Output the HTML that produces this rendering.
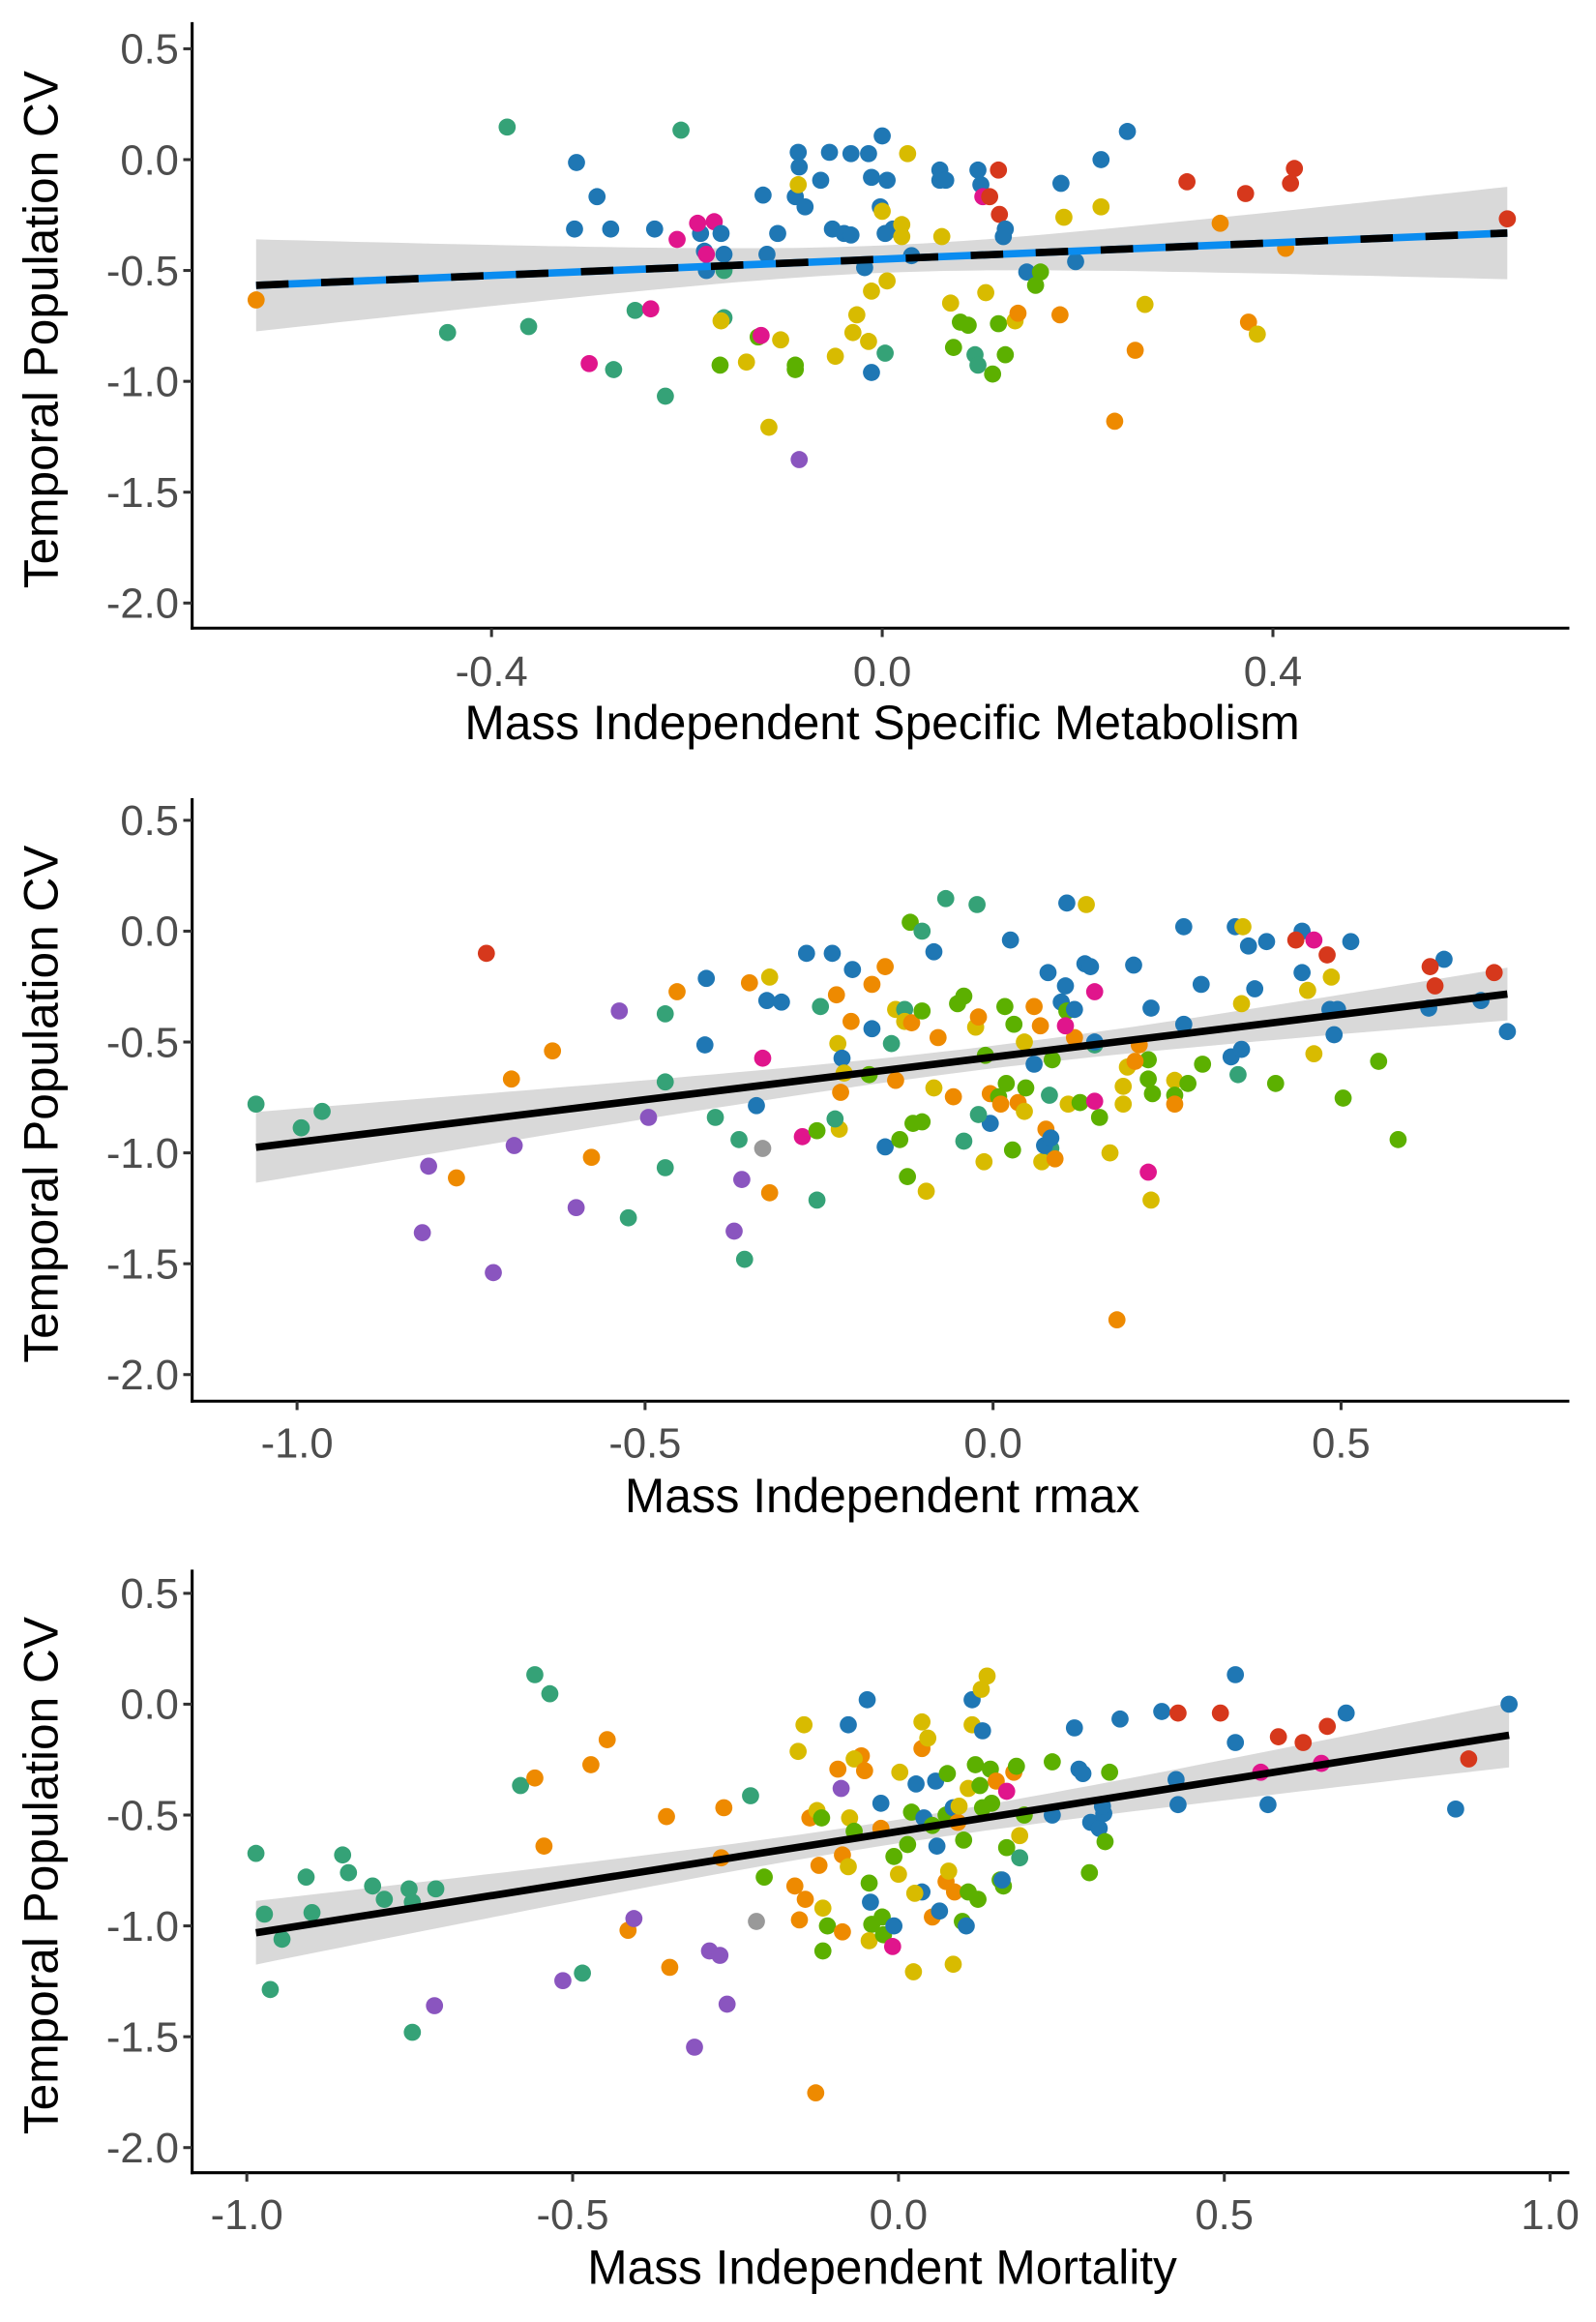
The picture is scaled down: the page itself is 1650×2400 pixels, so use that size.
<!DOCTYPE html>
<html><head><meta charset="utf-8"><style>
html,body{margin:0;padding:0;background:#fff;}
svg{display:block;}
text{font-family:"Liberation Sans",Arial,sans-serif;}
</style></head><body>
<svg id="chart" width="1650" height="2400" viewBox="0 0 1080 1571" xmlns="http://www.w3.org/2000/svg"></svg>
<script>
const colorCodes = {b:'#1f77b4',t:'#35a277',o:'#ee8a00',y:'#d8bb00',l:'#5cb000',r:'#d6381c',m:'#e0158c',p:'#8a55bf',g:'#999999'};
const yTicks = [0.5,0.0,-0.5,-1.0,-1.5,-2.0];
const yTickLabels = ['0.5','0.0','-0.5','-1.0','-1.5','-2.0'];
const p1xTicks = [-0.4,0.0,0.4];
const p1xTickLabels = ['-0.4','0.0','0.4'];
const p2xTicks = [-1.0,-0.5,0.0,0.5];
const p2xTickLabels = ['-1.0','-0.5','0.0','0.5'];
const p3xTicks = [-1.0,-0.5,0.0,0.5,1.0];
const p3xTickLabels = ['-1.0','-0.5','0.0','0.5','1.0'];
const yTitle = 'Temporal Population CV';
const xTitles = ['Mass Independent Specific Metabolism','Mass Independent rmax','Mass Independent Mortality'];

const p1 = [[-0.384,0.147,'t'],[-0.206,0.133,'t'],[-0.313,-0.013,'b'],[-0.292,-0.167,'b'],[-0.315,-0.313,'b'],[-0.278,-0.313,'b'],[-0.233,-0.313,'b'],[-0.21,-0.36,'m'],[-0.186,-0.333,'b'],[-0.189,-0.287,'m'],[-0.172,-0.28,'m'],[-0.182,-0.413,'b'],[-0.18,-0.5,'b'],[-0.18,-0.427,'m'],[-0.165,-0.333,'b'],[-0.162,-0.427,'b'],[-0.162,-0.5,'t'],[-0.162,-0.713,'t'],[-0.165,-0.727,'y'],[-0.445,-0.78,'t'],[-0.362,-0.753,'t'],[-0.253,-0.68,'t'],[-0.237,-0.673,'m'],[-0.641,-0.633,'o'],[-0.3,-0.92,'m'],[-0.275,-0.947,'t'],[-0.222,-1.067,'t'],[-0.166,-0.927,'l'],[-0.139,-0.913,'y'],[-0.127,-0.8,'l'],[-0.124,-0.793,'m'],[-0.104,-0.813,'y'],[-0.116,-1.207,'y'],[-0.089,-0.927,'l'],[-0.089,-0.947,'l'],[-0.085,-1.353,'p'],[-0.122,-0.16,'b'],[-0.107,-0.333,'b'],[-0.118,-0.427,'b'],[-0.086,0.033,'b'],[-0.085,-0.033,'b'],[-0.089,-0.167,'b'],[-0.079,-0.213,'b'],[-0.063,-0.093,'b'],[-0.054,0.033,'b'],[-0.032,0.027,'b'],[0.0,0.107,'b'],[-0.014,0.027,'b'],[-0.011,-0.08,'b'],[0.026,0.027,'y'],[-0.086,-0.113,'y'],[-0.051,-0.313,'b'],[-0.039,-0.333,'b'],[-0.032,-0.34,'b'],[-0.018,-0.487,'b'],[-0.002,-0.213,'b'],[0.005,-0.093,'b'],[0.011,-0.313,'b'],[0.018,-0.313,'b'],[0.003,-0.333,'b'],[0.0,-0.233,'y'],[0.02,-0.293,'y'],[0.02,-0.347,'y'],[0.03,-0.433,'b'],[0.005,-0.547,'y'],[-0.011,-0.593,'y'],[-0.026,-0.7,'y'],[-0.03,-0.78,'y'],[-0.014,-0.82,'y'],[-0.048,-0.887,'y'],[0.003,-0.873,'t'],[-0.011,-0.96,'b'],[0.059,-0.047,'b'],[0.059,-0.093,'b'],[0.065,-0.093,'b'],[0.098,-0.047,'b'],[0.101,-0.113,'b'],[0.103,-0.167,'m'],[0.119,-0.047,'r'],[0.12,-0.247,'r'],[0.11,-0.167,'r'],[0.126,-0.313,'b'],[0.124,-0.347,'b'],[0.061,-0.347,'y'],[0.07,-0.647,'y'],[0.073,-0.847,'l'],[0.08,-0.733,'l'],[0.088,-0.747,'l'],[0.095,-0.88,'t'],[0.098,-0.927,'t'],[0.113,-0.967,'l'],[0.126,-0.88,'l'],[0.119,-0.74,'l'],[0.136,-0.727,'y'],[0.139,-0.693,'o'],[0.106,-0.6,'y'],[0.148,-0.507,'b'],[0.162,-0.507,'l'],[0.157,-0.567,'l'],[0.183,-0.107,'b'],[0.186,-0.26,'y'],[0.198,-0.46,'b'],[0.182,-0.7,'o'],[0.224,0.0,'b'],[0.224,-0.213,'y'],[0.251,0.127,'b'],[0.259,-0.86,'o'],[0.269,-0.653,'y'],[0.238,-1.18,'o'],[0.312,-0.1,'r'],[0.372,-0.153,'r'],[0.346,-0.287,'o'],[0.422,-0.04,'r'],[0.418,-0.107,'r'],[0.413,-0.4,'o'],[0.375,-0.733,'o'],[0.384,-0.787,'y'],[0.64,-0.267,'r']];

const p2 = [[-1.059,-0.78,'t'],[-0.994,-0.887,'t'],[-0.964,-0.813,'t'],[-0.728,-0.1,'r'],[-0.692,-0.667,'o'],[-0.633,-0.54,'o'],[-0.771,-1.113,'o'],[-0.811,-1.06,'p'],[-0.82,-1.36,'p'],[-0.718,-1.54,'p'],[-0.688,-0.967,'p'],[-0.599,-1.247,'p'],[-0.577,-1.02,'o'],[-0.537,-0.36,'p'],[-0.524,-1.293,'t'],[-0.495,-0.84,'p'],[-0.454,-0.273,'o'],[-0.471,-0.373,'t'],[-0.471,-0.68,'t'],[-0.471,-1.067,'t'],[-0.412,-0.213,'b'],[-0.414,-0.513,'b'],[-0.399,-0.84,'t'],[-0.35,-0.233,'o'],[-0.365,-0.94,'t'],[-0.361,-1.12,'p'],[-0.372,-1.353,'p'],[-0.357,-1.48,'t'],[-0.34,-0.787,'b'],[-0.331,-0.98,'g'],[-0.321,-1.18,'o'],[-0.321,-0.207,'y'],[-0.325,-0.313,'b'],[-0.304,-0.32,'b'],[-0.331,-0.573,'m'],[-0.268,-0.1,'b'],[-0.231,-0.1,'b'],[-0.248,-0.34,'t'],[-0.274,-0.927,'m'],[-0.253,-1.213,'t'],[-0.225,-0.287,'o'],[-0.204,-0.407,'o'],[-0.223,-0.507,'y'],[-0.217,-0.573,'b'],[-0.219,-0.727,'o'],[-0.221,-0.893,'y'],[-0.214,-0.64,'y'],[-0.227,-0.847,'t'],[-0.253,-0.9,'l'],[-0.202,-0.173,'b'],[-0.174,-0.24,'o'],[-0.174,-0.44,'b'],[-0.155,-0.973,'b'],[-0.155,-0.16,'o'],[-0.178,-0.647,'l'],[-0.146,-0.507,'t'],[-0.134,-0.94,'l'],[-0.14,-0.353,'y'],[-0.14,-0.673,'o'],[-0.123,-1.107,'l'],[-0.119,0.04,'l'],[-0.127,-0.353,'t'],[-0.127,-0.407,'y'],[-0.117,-0.413,'o'],[-0.102,0.0,'t'],[-0.102,-0.36,'l'],[-0.096,-1.173,'y'],[-0.102,-0.86,'l'],[-0.115,-0.867,'l'],[-0.085,-0.093,'b'],[-0.068,0.147,'t'],[-0.023,0.12,'t'],[-0.079,-0.48,'o'],[-0.085,-0.707,'y'],[-0.057,-0.747,'o'],[-0.051,-0.327,'l'],[-0.042,-0.293,'l'],[-0.025,-0.433,'y'],[-0.042,-0.947,'t'],[-0.021,-0.387,'o'],[-0.004,-0.733,'o'],[-0.004,-0.867,'b'],[-0.013,-1.04,'y'],[-0.021,-0.827,'t'],[0.028,-0.987,'l'],[-0.011,-0.56,'l'],[0.017,-0.34,'l'],[0.03,-0.42,'l'],[0.019,-0.687,'l'],[0.008,-0.747,'l'],[0.011,-0.78,'o'],[0.036,-0.773,'o'],[0.025,-0.04,'b'],[0.045,-0.5,'y'],[0.047,-0.707,'l'],[0.045,-0.813,'y'],[0.059,-0.34,'o'],[0.068,-0.427,'o'],[0.079,-0.187,'b'],[0.081,-0.74,'t'],[0.083,-0.98,'t'],[0.085,-0.58,'l'],[0.07,-1.04,'y'],[0.076,-0.893,'o'],[0.059,-0.6,'b'],[0.106,0.127,'b'],[0.098,-0.32,'b'],[0.106,-0.36,'l'],[0.117,-0.48,'o'],[0.117,-0.353,'b'],[0.134,0.12,'y'],[0.132,-0.147,'b'],[0.14,-0.16,'b'],[0.146,-0.513,'t'],[0.146,-0.273,'m'],[0.104,-0.247,'b'],[0.104,-0.427,'m'],[0.074,-0.967,'b'],[0.083,-0.933,'b'],[0.089,-1.027,'o'],[0.108,-0.78,'y'],[0.125,-0.773,'l'],[0.153,-0.84,'l'],[0.146,-0.767,'m'],[0.168,-1.0,'y'],[0.187,-0.7,'y'],[0.187,-0.78,'y'],[0.193,-0.613,'y'],[0.21,-0.513,'o'],[0.202,-0.153,'b'],[0.223,-1.087,'m'],[0.227,-1.213,'y'],[0.227,-0.347,'b'],[0.223,-0.58,'l'],[0.223,-0.667,'l'],[0.229,-0.733,'l'],[0.204,-0.587,'o'],[0.146,-0.5,'b'],[0.178,-1.753,'o'],[0.274,0.02,'b'],[0.299,-0.24,'b'],[0.261,-0.673,'y'],[0.261,-0.74,'l'],[0.261,-0.78,'o'],[0.274,-0.42,'b'],[0.28,-0.687,'l'],[0.301,-0.6,'l'],[0.348,0.02,'b'],[0.359,0.02,'y'],[0.367,-0.067,'b'],[0.357,-0.327,'y'],[0.376,-0.26,'b'],[0.342,-0.567,'b'],[0.352,-0.647,'t'],[0.357,-0.533,'b'],[0.393,-0.047,'b'],[0.406,-0.687,'l'],[0.444,0.0,'b'],[0.435,-0.04,'r'],[0.461,-0.04,'m'],[0.444,-0.187,'b'],[0.48,-0.107,'r'],[0.452,-0.267,'y'],[0.461,-0.553,'y'],[0.486,-0.207,'y'],[0.484,-0.353,'b'],[0.495,-0.353,'b'],[0.49,-0.467,'b'],[0.514,-0.047,'b'],[0.503,-0.753,'l'],[0.554,-0.587,'l'],[0.582,-0.94,'l'],[0.648,-0.127,'b'],[0.628,-0.16,'r'],[0.635,-0.247,'r'],[0.626,-0.347,'b'],[0.701,-0.313,'b'],[0.72,-0.187,'r'],[0.739,-0.453,'b']];

const p3 = [[-0.986,-0.673,'t'],[-0.973,-0.947,'t'],[-0.964,-1.287,'t'],[-0.946,-1.06,'t'],[-0.909,-0.78,'t'],[-0.9,-0.94,'t'],[-0.853,-0.68,'t'],[-0.844,-0.76,'t'],[-0.807,-0.82,'t'],[-0.789,-0.88,'t'],[-0.751,-0.833,'t'],[-0.746,-0.893,'t'],[-0.746,-1.48,'t'],[-0.71,-0.833,'t'],[-0.712,-1.36,'p'],[-0.58,-0.367,'t'],[-0.558,0.133,'t'],[-0.535,0.047,'t'],[-0.558,-0.333,'o'],[-0.544,-0.64,'o'],[-0.515,-1.247,'p'],[-0.485,-1.213,'t'],[-0.472,-0.273,'o'],[-0.447,-0.16,'o'],[-0.415,-1.02,'o'],[-0.406,-0.967,'p'],[-0.356,-0.507,'o'],[-0.351,-1.187,'o'],[-0.313,-1.547,'p'],[-0.29,-1.113,'p'],[-0.274,-1.133,'p'],[-0.272,-0.693,'o'],[-0.268,-0.467,'o'],[-0.263,-1.353,'p'],[-0.227,-0.413,'t'],[-0.218,-0.98,'g'],[-0.206,-0.78,'l'],[-0.159,-0.82,'o'],[-0.154,-0.213,'y'],[-0.152,-0.973,'o'],[-0.143,-0.88,'o'],[-0.145,-0.093,'y'],[-0.127,-1.753,'o'],[-0.136,-0.513,'o'],[-0.125,-0.48,'y'],[-0.118,-0.513,'l'],[-0.122,-0.727,'o'],[-0.116,-0.92,'y'],[-0.116,-1.113,'l'],[-0.109,-1.0,'l'],[-0.088,-0.38,'p'],[-0.093,-0.293,'o'],[-0.086,-1.027,'o'],[-0.086,-0.68,'o'],[-0.077,-0.733,'y'],[-0.075,-0.513,'y'],[-0.068,-0.573,'l'],[-0.077,-0.093,'b'],[-0.057,-0.233,'o'],[-0.068,-0.247,'y'],[-0.048,0.02,'b'],[-0.052,-0.3,'o'],[-0.045,-0.807,'l'],[-0.043,-0.893,'b'],[-0.041,-0.993,'l'],[-0.045,-1.067,'y'],[-0.027,-0.56,'o'],[-0.027,-0.447,'b'],[-0.025,-0.96,'l'],[-0.023,-1.04,'l'],[-0.009,-1.093,'m'],[-0.007,-0.687,'l'],[-0.007,-1.0,'b'],[0.0,-0.767,'y'],[0.002,-0.307,'y'],[0.014,-0.633,'l'],[0.02,-0.487,'l'],[0.027,-0.36,'b'],[0.036,-0.847,'b'],[0.023,-1.207,'y'],[0.036,-0.08,'y'],[0.025,-0.853,'y'],[0.039,-0.513,'b'],[0.057,-0.347,'b'],[0.052,-0.547,'l'],[0.059,-0.64,'b'],[0.036,-0.2,'o'],[0.045,-0.153,'y'],[0.073,-0.5,'l'],[0.052,-0.96,'o'],[0.063,-0.933,'b'],[0.084,-1.173,'y'],[0.073,-0.8,'o'],[0.084,-0.467,'b'],[0.075,-0.313,'l'],[0.098,-0.98,'l'],[0.104,-1.0,'b'],[0.086,-0.847,'o'],[0.077,-0.753,'y'],[0.091,-0.533,'o'],[0.093,-0.46,'y'],[0.1,-0.613,'l'],[0.107,-0.38,'y'],[0.107,-0.847,'l'],[0.113,0.02,'b'],[0.113,-0.093,'y'],[0.136,0.127,'y'],[0.127,0.067,'y'],[0.118,-0.273,'l'],[0.125,-0.367,'l'],[0.129,-0.467,'l'],[0.122,-0.88,'l'],[0.141,-0.293,'l'],[0.129,-0.12,'b'],[0.143,-0.447,'l'],[0.156,-0.793,'l'],[0.161,-0.82,'l'],[0.159,-0.793,'b'],[0.15,-0.347,'o'],[0.166,-0.393,'m'],[0.177,-0.307,'o'],[0.181,-0.28,'l'],[0.166,-0.647,'l'],[0.186,-0.693,'t'],[0.186,-0.593,'y'],[0.236,-0.26,'l'],[0.193,-0.5,'l'],[0.236,-0.5,'b'],[0.277,-0.293,'b'],[0.295,-0.533,'b'],[0.27,-0.107,'b'],[0.283,-0.313,'b'],[0.293,-0.76,'l'],[0.308,-0.56,'b'],[0.315,-0.493,'b'],[0.324,-0.307,'l'],[0.317,-0.62,'l'],[0.313,-0.46,'b'],[0.34,-0.067,'b'],[0.404,-0.033,'b'],[0.429,-0.04,'r'],[0.426,-0.34,'b'],[0.429,-0.453,'b'],[0.494,-0.04,'r'],[0.517,0.133,'b'],[0.517,-0.173,'b'],[0.583,-0.147,'r'],[0.556,-0.307,'m'],[0.567,-0.453,'b'],[0.621,-0.173,'r'],[0.658,-0.1,'r'],[0.649,-0.267,'m'],[0.687,-0.04,'b'],[0.875,-0.247,'r'],[0.855,-0.473,'b'],[0.937,0.0,'b']];

const NS = 'http://www.w3.org/2000/svg';
const svg = document.getElementById('chart');
function mk(tag, attrs, parent){
  const e = document.createElementNS(NS, tag);
  for (const k in attrs) e.setAttribute(k, attrs[k]);
  (parent||svg).appendChild(e);
  return e;
}
const panels = [
  {data:p1, xt:p1xTicks, xl:p1xTickLabels, x0:597, kx:661, y0:108, top:15, axisY:425, tickLY:464, titleY:500, dashed:true, title:xTitles[0]},
  {data:p2, xt:p2xTicks, xl:p2xTickLabels, x0:672, kx:471, y0:630, top:540, axisY:948, tickLY:986, titleY:1023, dashed:false, title:xTitles[1]},
  {data:p3, xt:p3xTicks, xl:p3xTickLabels, x0:608, kx:441, y0:1153, top:1062, axisY:1470, tickLY:1508, titleY:1545, dashed:false, title:xTitles[2]}
];
const KY = 150, AX = 130, AXR = 1062;

panels.forEach((P, i) => {
  const sx = v => P.x0 + v * P.kx;
  const sy = v => P.y0 - v * KY;
  const g = mk('g', {});
  
  

  const xs = P.data.map(d => d[0]), ys = P.data.map(d => d[1]);
  const n = xs.length;
  const mx = xs.reduce((a,b)=>a+b,0)/n, my = ys.reduce((a,b)=>a+b,0)/n;
  let sxx=0, sxy=0;
  for (let k=0;k<n;k++){ sxx += (xs[k]-mx)**2; sxy += (xs[k]-mx)*(ys[k]-my); }
  const b = sxy/sxx, a = my - b*mx;
  let sse=0; for (let k=0;k<n;k++) sse += (ys[k]-a-b*xs[k])**2;
  const s = Math.sqrt(sse/(n-2)), t = 1.97;
  const xmin = Math.min(...xs), xmax = Math.max(...xs);
  const up=[], lo=[];
  for (let k=0;k<=60;k++){
    const x = xmin + (xmax-xmin)*k/60;
    const se = s*Math.sqrt(1/n + (x-mx)**2/sxx);
    const yh = a+b*x;
    up.push(sx(x).toFixed(1)+','+sy(yh+t*se).toFixed(1));
    lo.unshift(sx(x).toFixed(1)+','+sy(yh-t*se).toFixed(1));
  }
  const band = mk('polygon', {points: up.concat(lo).join(' '), fill:'#d9d9d9'}, g);
  
  

  P.data.forEach(d => {
    const c = mk('circle', {cx:sx(d[0]), cy:sy(d[1]), r:5.8, fill:colorCodes[d[2]]}, g);
    
    
  });

  const lx1=sx(xmin), ly1=sy(a+b*xmin), lx2=sx(xmax), ly2=sy(a+b*xmax);
  if (P.dashed) {
    const l1 = mk('line', {x1:lx1,y1:ly1,x2:lx2,y2:ly2,stroke:'#0a8cf0','stroke-width':5}, g);
    
    
    const l2 = mk('line', {x1:lx1,y1:ly1,x2:lx2,y2:ly2,stroke:'#000','stroke-width':5,'stroke-dasharray':'22 22'}, g);
    
    
  } else {
    const l = mk('line', {x1:lx1,y1:ly1,x2:lx2,y2:ly2,stroke:'#000','stroke-width':5}, g);
    
    
  }

  const ya = mk('line', {x1:AX,y1:P.top,x2:AX,y2:P.axisY+1,stroke:'#000','stroke-width':2}, g);
  
  
  const xa = mk('line', {x1:AX-1,y1:P.axisY,x2:AXR,y2:P.axisY,stroke:'#000','stroke-width':2}, g);
  
  

  yTicks.forEach((v, k) => {
    const y = sy(v);
    const tk = mk('line', {x1:AX-6,y1:y,x2:AX,y2:y,stroke:'#333','stroke-width':2}, g);
    
    
    const tl = mk('text', {x:AX-9,y:y+10,'text-anchor':'end','font-size':28.5,fill:'#4d4d4d'}, g);
    tl.textContent = yTickLabels[k];
    
    
  });
  P.xt.forEach((v, k) => {
    const x = sx(v);
    const tk = mk('line', {x1:x,y1:P.axisY,x2:x,y2:P.axisY+6,stroke:'#333','stroke-width':2}, g);
    
    
    const tl = mk('text', {x:x,y:P.tickLY,'text-anchor':'middle','font-size':28.5,fill:'#4d4d4d'}, g);
    tl.textContent = P.xl[k];
    
    
  });
  const xt = mk('text', {x:597,y:P.titleY,'text-anchor':'middle','font-size':32.5,fill:'#000'}, g);
  xt.textContent = P.title;
  
  
  const cy = (P.top + P.axisY)/2 + 3;
  const yt = mk('text', {x:39,y:cy,'text-anchor':'middle','font-size':32.5,fill:'#000',transform:'rotate(-90 39 '+cy+')'}, g);
  yt.textContent = yTitle;
  
  
});
</script>
</body></html>
